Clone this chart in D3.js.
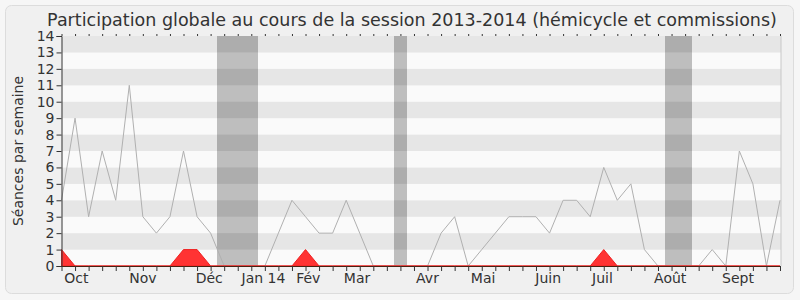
<!DOCTYPE html>
<html lang="fr">
<head>
  <meta charset="UTF-8" />
  <title>Participation globale 2013-2014</title>
  <script src="https://d3js.org/d3.v7.min.js"></script>
  <style>
    html, body {
      margin: 0;
      padding: 0;
      background-color: #f6f6f6;
      overflow: hidden;
      width: 800px;
      height: 300px;
    }
    svg text {
      font-family: "DejaVu Sans", sans-serif;
      fill: #333;
    }
  </style>
</head>
<body>
  <svg id="chart" width="800" height="300"></svg>

  <script>
    // one value per week, session Oct 2013 - Sept 2014
    const seances = [4, 9, 3, 7, 4, 11, 3, 2, 3, 7, 3, 2, 0, 0, 0, 0, 2, 4, 3, 2,
                     2, 4, 2, 0, 0, 0, 0, 0, 2, 3, 0, 1, 2, 3, 3, 3, 2, 4, 4, 3,
                     6, 4, 5, 1, 0, 0, 0, 0, 1, 0, 7, 5, 0, 4];
    const presences = [1, 0, 0, 0, 0, 0, 0, 0, 0, 1, 1, 0, 0, 0, 0, 0, 0, 0, 1, 0,
                       0, 0, 0, 0, 0, 0, 0, 0, 0, 0, 0, 0, 0, 0, 0, 0, 0, 0, 0, 0,
                       1, 0, 0, 0, 0, 0, 0, 0, 0, 0, 0, 0, 0, 0];
    // holiday weeks: first and last week of each break
    const vacances = [[12, 14], [25, 25], [45, 46]];
    const monthLabels = ["Oct", "Nov", "Déc", "Jan 14", "Fév", "Mar", "Avr", "Mai", "Juin", "Juil", "Août", "Sept"];
    const monthPos = [1.1, 6.0, 10.9, 14.9, 18.2, 21.8, 27.0, 31.1, 35.9, 39.9, 44.9, 49.9];
    const yTicks = d3.range(0, 15);

    const svg = d3.select("#chart");
    const weeks = d3.range(seances.length);

    const x = d3.scaleLinear().domain([0, seances.length - 1]).range([61.5, 780]);
    const y = d3.scaleLinear().domain([0, 14]).range([266, 36]);

    // frame
    svg.append("rect")
      .attr("x", 5.5).attr("y", 5.5)
      .attr("width", 788).attr("height", 288)
      .attr("rx", 6)
      .attr("fill", "#f0f0f0")
      .attr("stroke", "#dcdcdc");

    // stripes
    svg.selectAll("rect.stripe")
      .data(d3.range(0, 14))
      .enter().append("rect")
      .attr("class", "stripe")
      .attr("x", x(0))
      .attr("width", x(53) - x(0) + 1)
      .attr("y", d => y(d + 1))
      .attr("height", d => y(d) - y(d + 1))
      .attr("fill", d => d % 2 === 1 ? "#e6e6e6" : "#fafafa");

    // holidays
    vacances.forEach(([a, b]) => {
      const x0 = Math.round(x(a - 0.5));
      const w = Math.round(x(b + 0.5)) - x0;
      svg.append("rect")
        .attr("x", x0).attr("width", w)
        .attr("y", y(14)).attr("height", y(0) - y(14))
        .attr("fill", "#bebebe");
      d3.range(1, 14, 2).forEach(d => {
        svg.append("rect")
          .attr("x", x0).attr("width", w)
          .attr("y", y(d + 1)).attr("height", y(d) - y(d + 1))
          .attr("fill", "#adadad");
      });
    });

    // right border
    svg.append("line")
      .attr("x1", x(53) + 1).attr("x2", x(53) + 1)
      .attr("y1", y(14)).attr("y2", y(0))
      .attr("stroke", "#c8c8c8");

    // total line
    const line = d3.line().x((d, i) => x(i)).y(d => y(d));
    svg.append("path")
      .datum(seances)
      .attr("d", line)
      .attr("fill", "none")
      .attr("stroke", "#b0b0b0")
      .attr("stroke-width", 1);

    // red area
    const area = d3.area().x((d, i) => x(i)).y0(y(0)).y1(d => y(d));
    svg.append("path")
      .datum(presences)
      .attr("d", area)
      .attr("fill", "#ff3333")
      .attr("stroke", "#ee2222")
      .attr("stroke-width", 1);

    // baseline
    svg.append("line")
      .attr("x1", x(0)).attr("x2", x(53) + 1)
      .attr("y1", y(0) + 0.5).attr("y2", y(0) + 0.5)
      .attr("stroke", "#4a2010");

    // y axis
    const yAxis = svg.append("g")
      .attr("transform", `translate(${x(0)},0)`)
      .call(d3.axisLeft(y).tickValues(yTicks).tickSize(5).tickPadding(2));
    yAxis.select(".domain").attr("stroke", "#333");
    yAxis.selectAll(".tick line").attr("stroke", "#333");
    yAxis.selectAll("text").style("font-size", "14px").attr("fill", "#333");

    // bottom week ticks
    svg.append("g")
      .attr("transform", `translate(0,${y(0)})`)
      .call(d3.axisBottom(x).tickValues(weeks).tickSize(5).tickFormat(""))
      .call(g => g.select(".domain").remove())
      .call(g => g.selectAll(".tick line").attr("stroke", "#333"));

    // top week ticks
    svg.append("g")
      .attr("transform", `translate(0,${y(14)})`)
      .call(d3.axisTop(x).tickValues(weeks).tickSize(2).tickFormat(""))
      .call(g => g.select(".domain").remove())
      .call(g => g.selectAll(".tick line").attr("stroke", "#333"));

    // month labels
    svg.selectAll("text.month")
      .data(monthLabels)
      .enter().append("text")
      .attr("class", "month")
      .attr("x", (d, i) => x(monthPos[i]))
      .attr("y", 283)
      .attr("text-anchor", "middle")
      .style("font-size", "14px")
      .text(d => d);

    // y label
    svg.append("text")
      .attr("transform", `translate(23,${(y(0) + y(14)) / 2}) rotate(-90)`)
      .attr("text-anchor", "middle")
      .style("font-size", "14px")
      .text("Séances par semaine");

    // title
    svg.append("text")
      .attr("x", 412)
      .attr("y", 26)
      .attr("text-anchor", "middle")
      .style("font-size", "17.5px")
      .text("Participation globale au cours de la session 2013-2014 (hémicycle et commissions)");
  </script>
</body>
</html>
